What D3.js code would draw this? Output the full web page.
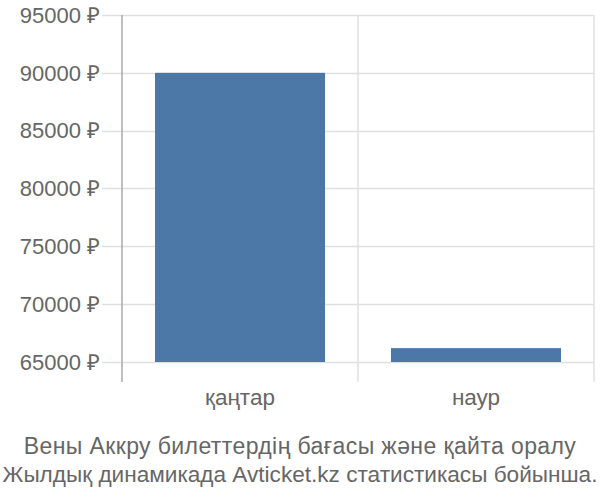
<!DOCTYPE html>
<html><head><meta charset="utf-8">
<script src="https://cdn.jsdelivr.net/npm/d3@7"></script>
<style>body{margin:0;background:#fff}svg{display:block}text{font-family:"Liberation Sans",Arial,sans-serif;fill:#666}</style>
</head><body>
<svg id="c" width="600" height="500"></svg>
<script>
const categories = ["қаңтар", "наур"];
const values = [90000, 66200];
const yTicks = [65000, 70000, 75000, 80000, 85000, 90000, 95000];
const titleLines = ["Вены Аккру билеттердің бағасы және қайта оралу", "Жылдық динамикада Avticket.kz статистикасы бойынша."];
const baseline = 65000;

(function () {
const svg = d3.select("#c");
const mLeft = 122, mRight = 594, mTop = 15, mBottom = 382;
const x = d3.scaleBand().domain(categories).range([mLeft, mRight]).paddingInner(0).paddingOuter(0);
const y = d3.scaleLinear().domain([63270, 95000]).range([mBottom, mTop]);

svg.append("g").selectAll("line").data(yTicks).join("line")
  .attr("x1", mLeft - 20).attr("x2", mRight)
  .attr("y1", d => Math.round(y(d)) + 0.5).attr("y2", d => Math.round(y(d)) + 0.5)
  .attr("stroke", "#e0e0e0").attr("stroke-width", 1.5);

const bounds = categories.map(c => x(c) + x.bandwidth());
svg.append("g").selectAll("line").data(bounds).join("line")
  .attr("x1", d => d).attr("x2", d => d)
  .attr("y1", mTop).attr("y2", mBottom)
  .attr("stroke", "#e0e0e0").attr("stroke-width", 1.5);

const pad = 33;
svg.append("g").selectAll("rect").data(values).join("rect")
  .attr("x", (d, i) => x(categories[i]) + pad)
  .attr("width", x.bandwidth() - 2 * pad)
  .attr("y", d => y(d))
  .attr("height", d => y(baseline) - y(d))
  .attr("fill", "#4c78a8");

svg.append("line").attr("x1", mLeft).attr("x2", mLeft).attr("y1", mTop).attr("y2", mBottom)
  .attr("stroke", "#aaa").attr("stroke-width", 1.5);

svg.append("g").selectAll("text").data(yTicks).join("text")
  .attr("x", 100).attr("y", d => y(d)).attr("dy", "0.35em")
  .attr("text-anchor", "end").attr("font-size", 22)
  .text(d => d + " ₽");

svg.append("g").selectAll("text").data(categories).join("text")
  .attr("x", d => x(d) + x.bandwidth() / 2).attr("y", 405)
  .attr("text-anchor", "middle").attr("font-size", 22.5)
  .text(d => d);

svg.append("g").selectAll("text").data(titleLines).join("text")
  .attr("x", 300).attr("y", (d, i) => 454 + i * 28)
  .attr("text-anchor", "middle").attr("font-size", (d, i) => i === 0 ? 23 : 22.6)
  .attr("letter-spacing", (d, i) => i === 0 ? 0.4 : 0)
  .text(d => d);
})();
</script>
</body></html>
